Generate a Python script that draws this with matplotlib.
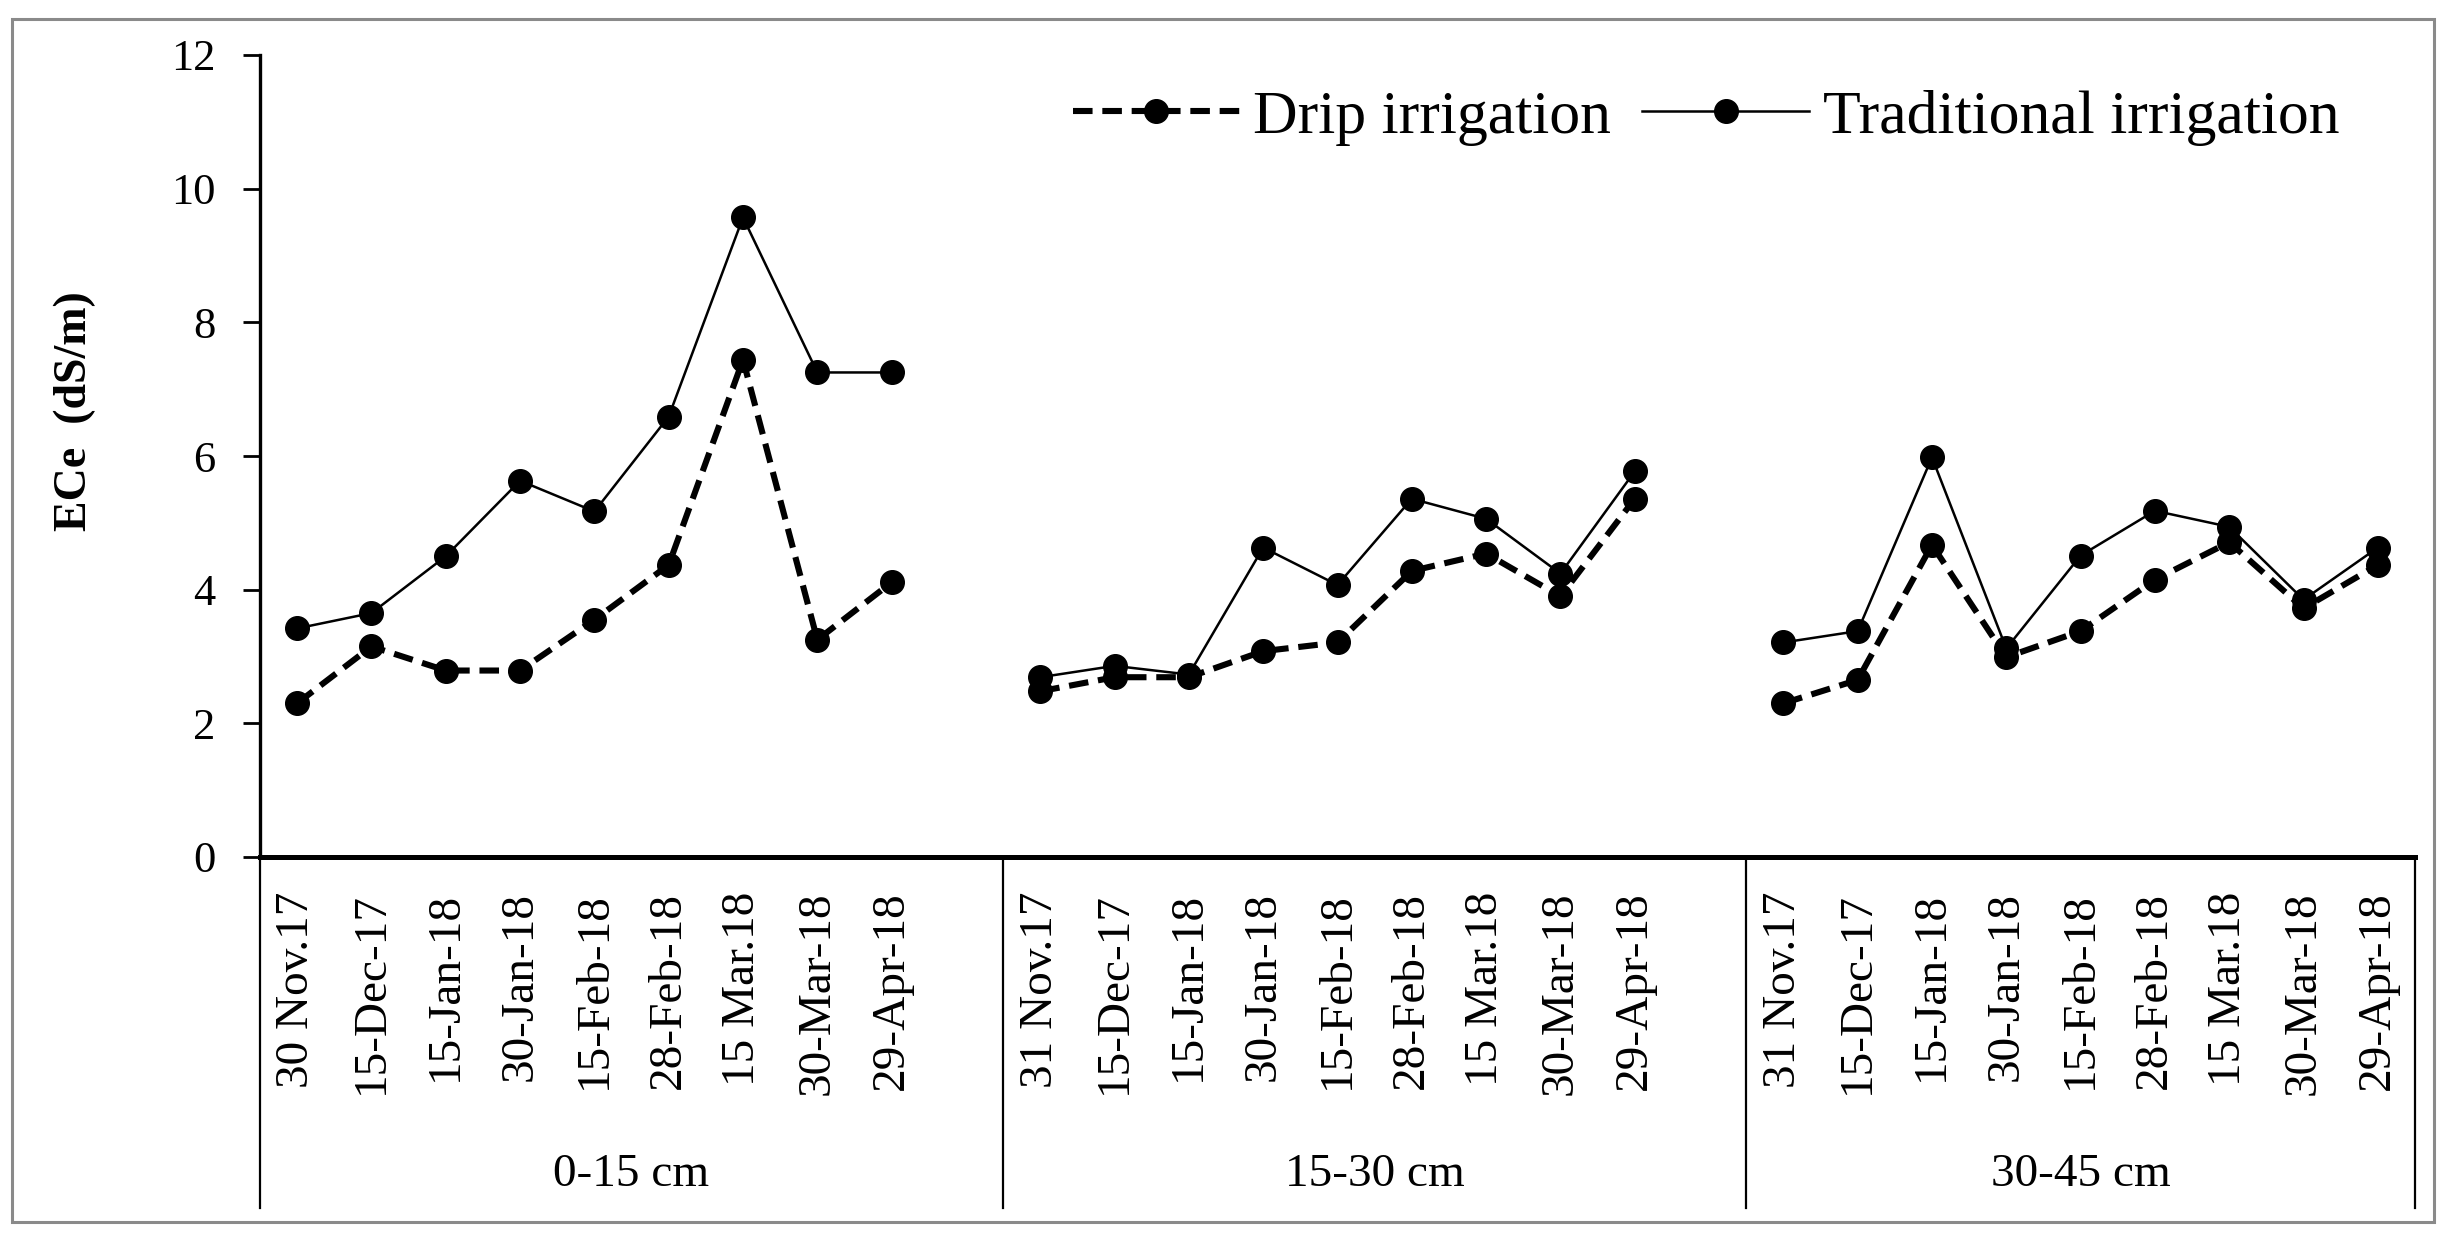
import matplotlib
matplotlib.use("Agg")
import matplotlib.pyplot as plt
import matplotlib.transforms as mtransforms
from matplotlib.patches import Rectangle
import numpy as np

plt.rcParams['font.family'] = ['Liberation Serif', 'DejaVu Serif']

# ---------------- data ----------------
depths = ["0-15 cm", "15-30 cm", "30-45 cm"]
dates_g1 = ["30 Nov.17", "15-Dec-17", "15-Jan-18", "30-Jan-18", "15-Feb-18",
            "28-Feb-18", "15 Mar.18", "30-Mar-18", "29-Apr-18"]
dates_g2 = ["31 Nov.17", "15-Dec-17", "15-Jan-18", "30-Jan-18", "15-Feb-18",
            "28-Feb-18", "15 Mar.18", "30-Mar-18", "29-Apr-18"]
dates_g3 = ["31 Nov.17", "15-Dec-17", "15-Jan-18", "30-Jan-18", "15-Feb-18",
            "28-Feb-18", "15 Mar.18", "30-Mar-18", "29-Apr-18"]

drip_0_15 = [2.30, 3.15, 2.79, 2.79, 3.55, 4.37, 7.44, 3.25, 4.11]
trad_0_15 = [3.42, 3.65, 4.50, 5.63, 5.17, 6.59, 9.57, 7.25, 7.25]
drip_15_30 = [2.48, 2.69, 2.69, 3.08, 3.21, 4.28, 4.54, 3.90, 5.36]
trad_15_30 = [2.69, 2.86, 2.73, 4.63, 4.07, 5.36, 5.06, 4.24, 5.77]
drip_30_45 = [2.30, 2.65, 4.67, 2.99, 3.38, 4.15, 4.71, 3.72, 4.37]
trad_30_45 = [3.21, 3.38, 5.98, 3.12, 4.51, 5.18, 4.94, 3.85, 4.63]

# category slots per group (Excel-style multi-level axis: a blank slot after groups 1 and 2)
group_slots = [10, 10, 9]

W, H = 2446, 1258
fig = plt.figure(figsize=(W / 100, H / 100), dpi=100)
ax = fig.add_axes([260 / W, 1 - 857 / H, (2415 - 260) / W, (857 - 55) / H])

groups_dates = [dates_g1, dates_g2, dates_g3]
groups_drip = [drip_0_15, drip_15_30, drip_30_45]
groups_trad = [trad_0_15, trad_15_30, trad_30_45]

starts = np.concatenate([[0], np.cumsum(group_slots)[:-1]])
tick_pos, tick_lab = [], []
for gi in range(3):
    x = starts[gi] + np.arange(len(groups_dates[gi]))
    tick_pos.extend(x)
    tick_lab.extend(groups_dates[gi])
    ax.plot(x, groups_drip[gi], color='black', lw=4.4, linestyle=(0, (3.2, 1.6)),
            marker='o', markersize=17, dash_capstyle='butt',
            label='Drip irrigation' if gi == 0 else None)
    ax.plot(x, groups_trad[gi], color='black', lw=1.8, linestyle='-',
            marker='o', markersize=17,
            label='Traditional irrigation' if gi == 0 else None)

total = sum(group_slots)
ax.set_xlim(-0.5, total - 0.5)
ax.set_ylim(0, 12)
ax.set_yticks(np.arange(0, 13, 2))
ax.tick_params(axis='y', length=12, width=2, direction='out', pad=20, labelsize=32)
ax.set_xticks(tick_pos)
ax.set_xticklabels(tick_lab, rotation=90, fontsize=34)
ax.tick_params(axis='x', length=0, pad=25)

for s in ['top', 'right']:
    ax.spines[s].set_visible(False)
ax.spines['left'].set_linewidth(2.4)
ax.spines['bottom'].set_linewidth(3.6)

# group separators and labels below the axis
trans = mtransforms.blended_transform_factory(ax.transData, ax.transAxes)
bounds = np.concatenate([[0], np.cumsum(group_slots)]) - 0.5
for b in bounds:
    ax.plot([b, b], [0, -0.4377], transform=trans, color='black', lw=1.6, clip_on=False)
for gi, d in enumerate(depths):
    cx = (bounds[gi] + bounds[gi + 1]) / 2
    ax.text(cx, -0.3965, d, transform=trans, ha='center', va='center', fontsize=34)

# y label
fig.text(75 / W, 1 - 411 / H, 'ECe  (dS/m)', rotation=90, ha='center', va='center',
         fontsize=33, fontweight='bold')

# legend
ax.legend(loc='center', bbox_to_anchor=(1706 / W, 1 - 118 / H),
          bbox_transform=fig.transFigure, ncol=2, frameon=False, fontsize=44.5,
          handlelength=2.7, handletextpad=0.22, columnspacing=0.5, borderpad=0,
          numpoints=1)

# outer frame
fig.patches.append(Rectangle((12 / W, 1 - 1222 / H), (2434 - 12) / W, (1222 - 19) / H,
                             transform=fig.transFigure, fill=False,
                             edgecolor='#8a8a8a', lw=2.2))

fig.savefig('out.png', dpi=100, facecolor='white')
